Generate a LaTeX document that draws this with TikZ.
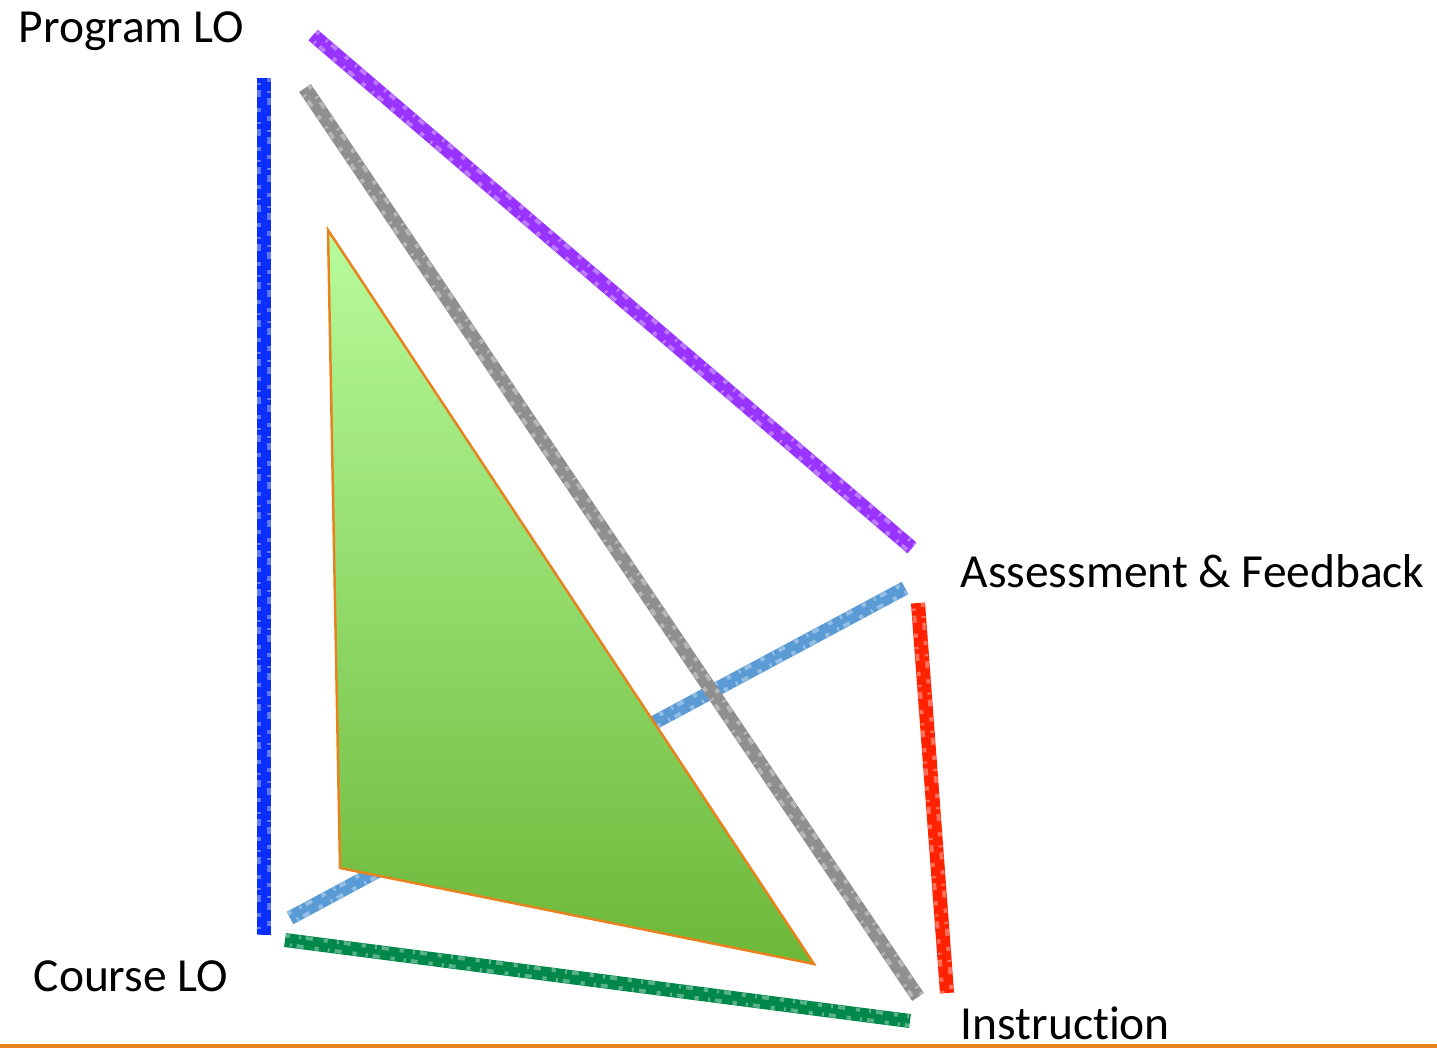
\documentclass[tikz,border=0pt]{standalone}
\usepackage{fontspec}
\setmainfont{Carlito}[Ligatures=NoCommon]
\usepackage{tikz}
\usetikzlibrary{calc,positioning}

\definecolor{loblue}{RGB}{10,46,255}
\definecolor{lopurple}{RGB}{153,51,255}
\definecolor{logray}{RGB}{143,143,143}
\definecolor{losky}{RGB}{91,155,213}
\definecolor{lored}{RGB}{255,34,0}
\definecolor{logreen}{RGB}{0,136,74}
\definecolor{loorange}{RGB}{232,130,30}
\definecolor{tritop}{RGB}{184,252,156}
\definecolor{tribot}{RGB}{108,184,56}

\begin{document}
\begin{tikzpicture}[x=0.01cm,y=-0.01cm]

\tikzset{
  cornerlabel/.style={font=\fontsize{13.5}{16}\selectfont, inner sep=0pt},
  chalk/.style={line width=4pt},
  speckle/.style={white, opacity=0.35, line width=1.1pt,
                  dash pattern=on 1.2pt off 2.6pt on 0.6pt off 1.4pt on 2pt off 3.1pt}
}

% rough crayon stroke: colour, from, to
\newcommand{\chalkline}[3]{
  \draw[chalk, #1] (#2) -- (#3);
  \draw[speckle] ($(#2)!1.3pt!90:(#3)$) -- ($(#3)!1.3pt!-90:(#2)$);
  \draw[speckle, dash phase=2.3pt] ($(#2)!1.3pt!-90:(#3)$) -- ($(#3)!1.3pt!90:(#2)$);
}

\useasboundingbox (0,0) rectangle (1437,1048);

% Labels
\node[cornerlabel, anchor=base west] (prog) at (18,42) {Program LO};
\node[cornerlabel, anchor=base west] (course) at (33,991) {Course LO};
\node[cornerlabel, anchor=base west] (assess) at (960,587) {Assessment \& Feedback};
\node[cornerlabel, anchor=base west] (instr) at (960,1039) {Instruction};

% Line ends
\coordinate (blueA) at (264,78);
\coordinate (blueB) at (264,935);
\coordinate (purpA) at (313,35);
\coordinate (purpB) at (912,548);
\coordinate (grayA) at (305,88);
\coordinate (grayB) at (918,997);
\coordinate (skyA) at (290,918);
\coordinate (skyB) at (905,588);
\coordinate (redA) at (918,603);
\coordinate (redB) at (947,993);
\coordinate (greenA) at (285,940);
\coordinate (greenB) at (910,1021);

% Back line
\chalkline{losky}{skyA}{skyB}

% Triangle
\coordinate (t1) at (328,230);
\coordinate (t2) at (340,868);
\coordinate (t3) at (814,964);
\shadedraw[top color=tritop, bottom color=tribot, draw=loorange, line width=0.7pt]
  (t1) -- (t2) -- (t3) -- cycle;

% Lines
\chalkline{logray}{grayA}{grayB}
\chalkline{lopurple}{purpA}{purpB}
\chalkline{loblue}{blueA}{blueB}
\chalkline{lored}{redA}{redB}
\chalkline{logreen}{greenA}{greenB}

% Base rule
\coordinate (ruleL) at (0,1046);
\coordinate (ruleR) at (1437,1046);
\draw[loorange, line width=1pt] (ruleL) -- (ruleR);

\end{tikzpicture}
\end{document}
